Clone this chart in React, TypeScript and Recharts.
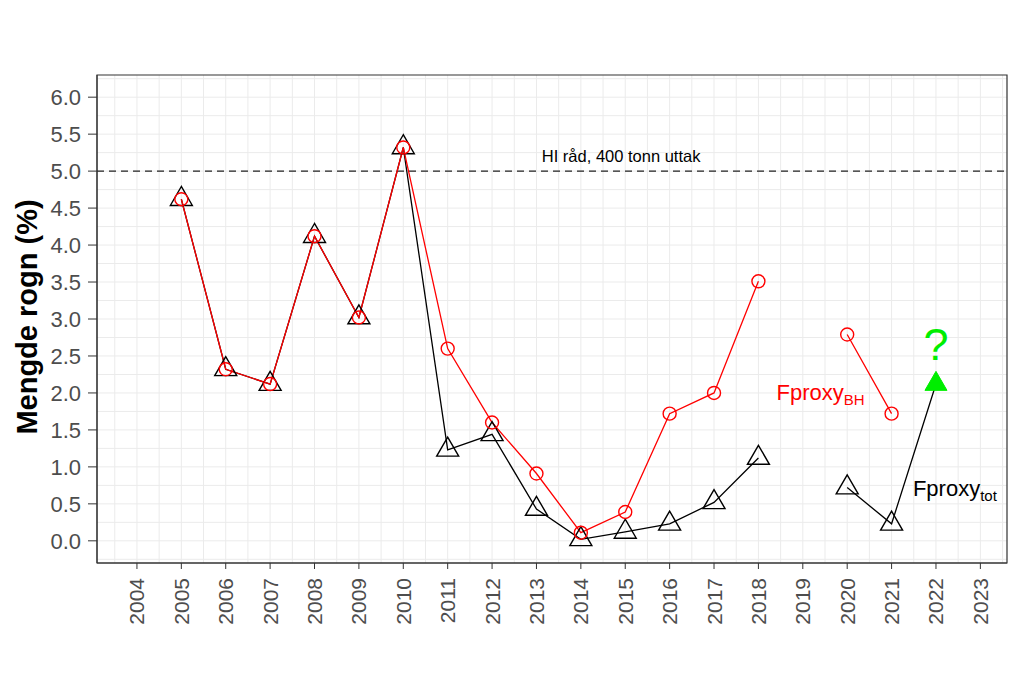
import React from 'react';
import {
  LineChart, Line, XAxis, YAxis, CartesianGrid, ReferenceLine, ReferenceDot, ReferenceArea,
} from 'recharts';

// ---- data ----
const years = [2005, 2006, 2007, 2008, 2009, 2010, 2011, 2012, 2013, 2014, 2015, 2016, 2017, 2018, 2019, 2020, 2021, 2022];
const fproxyBH = [4.62, 2.32, 2.12, 4.12, 3.02, 5.32, 2.6, 1.6, 0.91, 0.11, 0.39, 1.72, 2.0, 3.51, null, 2.79, 1.72, null];
const fproxyTot = [4.62, 2.32, 2.12, 4.12, 3.02, 5.32, 1.23, 1.44, 0.43, 0.02, 0.12, 0.23, 0.52, 1.12, null, 0.72, 0.23, 2.12];
const forecastYears = [2022];

const xTicks = [2004, 2005, 2006, 2007, 2008, 2009, 2010, 2011, 2012, 2013, 2014, 2015, 2016, 2017, 2018, 2019, 2020, 2021, 2022, 2023];
const yTicks = [0, 0.5, 1, 1.5, 2, 2.5, 3, 3.5, 4, 4.5, 5, 5.5, 6];
const xGrid = [2003.5, 2004, 2004.5, 2005, 2005.5, 2006, 2006.5, 2007, 2007.5, 2008, 2008.5, 2009, 2009.5, 2010, 2010.5, 2011, 2011.5, 2012, 2012.5, 2013, 2013.5, 2014, 2014.5, 2015, 2015.5, 2016, 2016.5, 2017, 2017.5, 2018, 2018.5, 2019, 2019.5, 2020, 2020.5, 2021, 2021.5, 2022, 2022.5, 2023, 2023.5];
const yGrid = [-0.25, 0, 0.25, 0.5, 0.75, 1, 1.25, 1.5, 1.75, 2, 2.25, 2.5, 2.75, 3, 3.25, 3.5, 3.75, 4, 4.25, 4.5, 4.75, 5, 5.25, 5.5, 5.75, 6, 6.25];
const xDomain = [2003.1, 2023.6];
const yDomain = [-0.3, 6.3];

const adviceLevel = 5;
const adviceText = 'HI råd, 400 tonn uttak';
const adviceTextPos = { x: 2013.12, y: 5.12 };
const bhLabelPos = { x: 2018.41, y: 1.91 };
const totLabelPos = { x: 2021.48, y: 0.6 };
const questionPos = { x: 2022, y: 2.44 };
const yTitle = 'Mengde rogn (%)';

const data = years.map((year, i) => ({ year, bh: fproxyBH[i], tot: fproxyTot[i] }));

const FONT = '"Liberation Sans", Arial, sans-serif';
const GREEN = '#00EE00';

const triangle = (cx: number, cy: number) =>
  `${cx},${cy - 12.7} ${cx - 11},${cy + 6.3} ${cx + 11},${cy + 6.3}`;

const TotDot = (props: any) => {
  const { cx, cy, payload, value } = props;
  const key = `tot-${payload?.year}`;
  if (value == null || cx == null || cy == null) return <g key={key} />;
  if (forecastYears.includes(payload.year)) {
    return <polygon key={key} points={triangle(cx, cy)} fill={GREEN} stroke={GREEN} strokeWidth={1} />;
  }
  return <polygon key={key} points={triangle(cx, cy)} fill="none" stroke="#000" strokeWidth={1.4} />;
};

const BhDot = (props: any) => {
  const { cx, cy, payload, value } = props;
  const key = `bh-${payload?.year}`;
  if (value == null || cx == null || cy == null) return <g key={key} />;
  return <circle key={key} cx={cx} cy={cy} r={6.5} fill="none" stroke="#FF0000" strokeWidth={1.4} />;
};

const XTick = (props: any) => {
  const { x, y, payload } = props;
  return (
    <g transform={`translate(${x},${y})`}>
      <text transform="rotate(-90)" x={-7} y={0} textAnchor="end" dominantBaseline="central"
        fill="#4D4D4D" fontSize={21} fontFamily={FONT}>{payload.value}</text>
    </g>
  );
};

const YTitle = (props: any) => {
  const vb = props.viewBox || {};
  const cx = 37;
  const cy = (vb.y ?? 75) + (vb.height ?? 488) / 2 - 2;
  return (
    <text x={cx} y={cy} transform={`rotate(-90, ${cx}, ${cy})`} textAnchor="middle"
      fill="#000" fontSize={29} fontWeight="bold" fontFamily={FONT}>{yTitle}</text>
  );
};

export default function App() {
  return (
    <div style={{ position: 'absolute', left: 0, top: 0, background: '#fff' }}>
      <LineChart width={1009} height={675} data={data} margin={{ top: 75, right: 2, bottom: 0, left: 0 }}>
        <CartesianGrid stroke="#EBEBEB" strokeWidth={1} horizontalValues={yGrid} verticalValues={xGrid} />
        <XAxis dataKey="year" type="number" domain={xDomain} ticks={xTicks} allowDataOverflow
          height={112} tickSize={6} tickMargin={2} tick={<XTick />} interval={0}
          axisLine={{ stroke: '#333' }} tickLine={{ stroke: '#333' }} />
        <YAxis type="number" domain={yDomain} ticks={yTicks} allowDataOverflow width={97}
          tickSize={9} tickMargin={7} interval={0}
          tickFormatter={(v: number) => v.toFixed(1)}
          tick={{ fill: '#4D4D4D', fontSize: 22, fontFamily: FONT }}
          axisLine={{ stroke: '#333' }} tickLine={{ stroke: '#333' }}
          label={{ content: <YTitle /> }} />
        <ReferenceArea x1={xDomain[0]} x2={xDomain[1]} y1={yDomain[0]} y2={yDomain[1]}
          fill="none" stroke="#333" strokeWidth={1.2} ifOverflow="visible" />
        <ReferenceLine y={adviceLevel} stroke="#222" strokeWidth={1.4} strokeDasharray="7 5" />
        <ReferenceDot x={adviceTextPos.x} y={adviceTextPos.y} r={0} ifOverflow="visible"
          shape={(p: any) => (
            <text x={p.cx} y={p.cy} textAnchor="start" fill="#000" fontSize={16.5} fontFamily={FONT}>{adviceText}</text>
          )} />
        <Line type="linear" dataKey="tot" stroke="#000" strokeWidth={1.3} dot={<TotDot />}
          activeDot={false} connectNulls={false} isAnimationActive={false} />
        <Line type="linear" dataKey="bh" stroke="#FF0000" strokeWidth={1.3} dot={<BhDot />}
          activeDot={false} connectNulls={false} isAnimationActive={false} />
        <ReferenceDot x={bhLabelPos.x} y={bhLabelPos.y} r={0} ifOverflow="visible"
          shape={(p: any) => (
            <text x={p.cx} y={p.cy} textAnchor="start" fill="#FF0000" fontSize={22} fontFamily={FONT}>
              Fproxy<tspan fontSize={15} dy={5}>BH</tspan>
            </text>
          )} />
        <ReferenceDot x={totLabelPos.x} y={totLabelPos.y} r={0} ifOverflow="visible"
          shape={(p: any) => (
            <text x={p.cx} y={p.cy} textAnchor="start" fill="#000" fontSize={22} fontFamily={FONT}>
              Fproxy<tspan fontSize={15} dy={5}>tot</tspan>
            </text>
          )} />
        <ReferenceDot x={questionPos.x} y={questionPos.y} r={0} ifOverflow="visible"
          shape={(p: any) => (
            <text x={p.cx} y={p.cy} textAnchor="middle" fill={GREEN} fontSize={45} fontFamily={FONT}>?</text>
          )} />
      </LineChart>
    </div>
  );
}
